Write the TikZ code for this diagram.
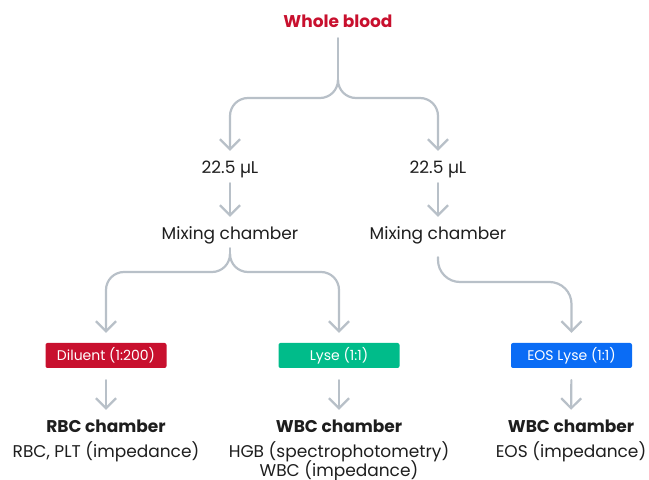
\documentclass[tikz,border=0pt]{standalone}
\usepackage{fontspec}
\setmainfont{Poppins}
\usetikzlibrary{arrows.meta}

\definecolor{bloodred}{HTML}{C8102E}
\definecolor{lysegreen}{HTML}{00BC8A}
\definecolor{eosblue}{HTML}{0A6CF5}
\definecolor{pipegray}{HTML}{B8C0C8}
\definecolor{ink}{HTML}{1E1E1E}

\tikzset{
  txt/.style={inner sep=0pt, text height=13pt, text depth=4pt, anchor=base,
    text=ink, font=\fontsize{17}{20}\selectfont},
  title/.style={txt, font=\fontsize{17}{20}\selectfont\bfseries},
  chip/.style={rounded corners=2pt, minimum width=121pt, minimum height=25pt,
    inner sep=0pt, text=white, font=\fontsize{14}{16}\selectfont},
  tube/.style={draw=pipegray, line width=2.2pt, line cap=round},
  flow/.style={tube, -{Straight Barb[length=10pt,width=20pt]}, shorten >=10pt},
}

\begin{document}
\begin{tikzpicture}[x=1pt,y=1pt]
\useasboundingbox (0,0) rectangle (649,480);

% sample and split
\node[title, text=bloodred] (blood) at (338,452) {Whole blood};
\coordinate (fork1) at (338,400);
\node[txt] (vol1) at (230,306) {22.5 µL};
\node[txt] (vol2) at (438,306) {22.5 µL};
\node[txt] (mix1) at (230,240) {Mixing chamber};
\node[txt] (mix2) at (438,240) {Mixing chamber};
\coordinate (fork2) at (230,226);
\coordinate (turn2) at (438,198);

% reagents
\node[chip, fill=bloodred] (dil) at (106,124.5) {Diluent (1:200)};
\node[chip, fill=lysegreen] (lyse) at (339,124.5) {Lyse (1:1)};
\node[chip, fill=eosblue] (eoslyse) at (571.5,124.5) {EOS Lyse (1:1)};

% chambers
\node[title] (rbc) at (106,47) {RBC chamber};
\node[txt] (rbcinfo) at (106,23) {RBC, PLT (impedance)};
\node[title] (wbc) at (339,47) {WBC chamber};
\node[txt] (hgb) at (339,23) {HGB (spectrophotometry)};
\node[txt] (wbcinfo) at (339,3) {WBC (impedance)};
\node[title] (wbc2) at (571,47) {WBC chamber};
\node[txt] (eosinfo) at (571,23) {EOS (impedance)};

% connectors
\draw[tube, shorten <=6pt] (blood.south) -- (fork1);
\draw[flow, rounded corners=18pt] (fork1) -- ++(0,-18) -| (vol1.north);
\draw[flow, rounded corners=18pt] (fork1) -- ++(0,-18) -| (vol2.north);
\draw[flow, shorten <=5pt] (vol1.south) -- (mix1.north);
\draw[flow, shorten <=5pt] (vol2.south) -- (mix2.north);
\draw[tube, shorten <=4pt] (mix1.south) -- (fork2);
\draw[flow, rounded corners=18pt] (fork2) -- ++(0,-18) -| (dil.north);
\draw[flow, rounded corners=18pt] (fork2) -- ++(0,-18) -| (lyse.north);
\draw[flow, rounded corners=22pt, shorten <=13pt] (mix2.south) -- (turn2) -| (eoslyse.north);
\draw[flow, shorten <=12pt] (dil.south) -- (rbc.north);
\draw[flow, shorten <=12pt] (lyse.south) -- (wbc.north);
\draw[flow, shorten <=12pt] (eoslyse.south) -- (wbc2.north);

\end{tikzpicture}
\end{document}
